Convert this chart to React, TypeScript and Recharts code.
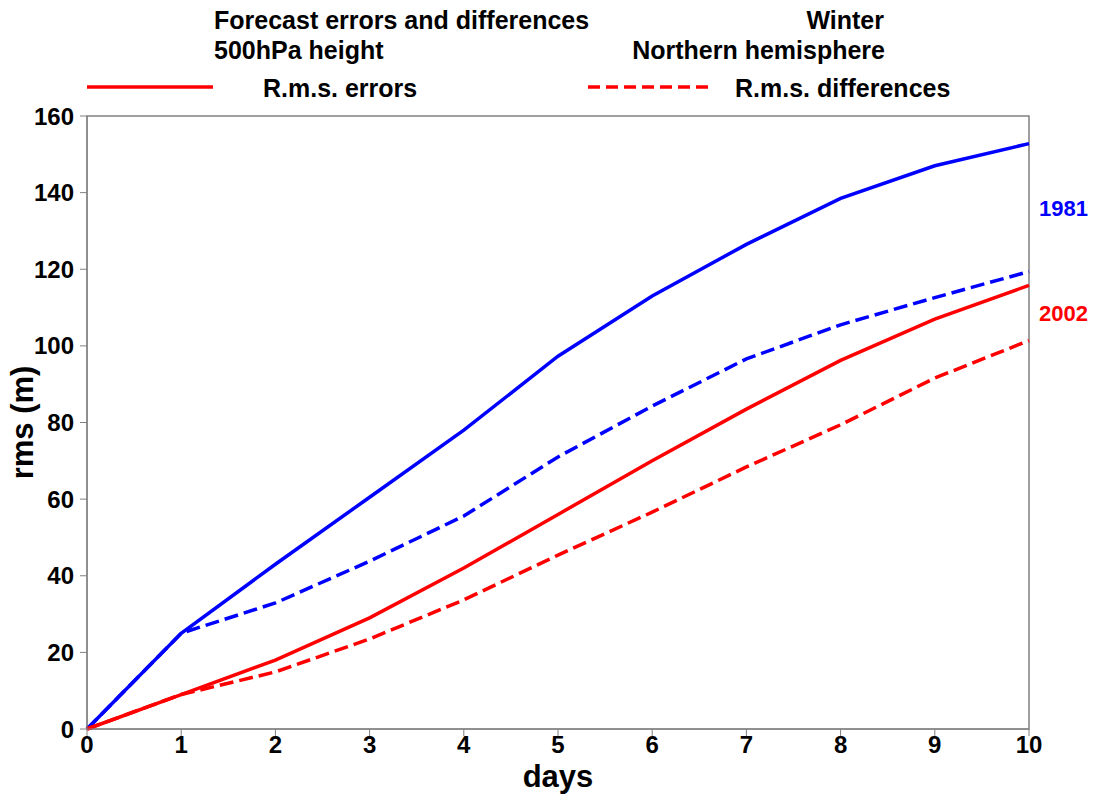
import { LineChart, Line, XAxis, YAxis, ReferenceArea } from 'recharts';

// forecast day and rms values (m)
const days = [0, 1, 2, 3, 4, 5, 6, 7, 8, 9, 10];
const errors1981 = [0, 25, 43, 60.5, 78, 97.3, 113, 126.5, 138.5, 147, 152.8];
const diffs1981 = [0, 25, 32.9, 43.8, 55.6, 71, 84.3, 96.6, 105.5, 112.6, 119.4];
const errors2002 = [0, 9, 18, 29, 42, 56, 70, 83.5, 96.2, 107, 115.8];
const diffs2002 = [0, 9, 14.9, 23.5, 33.7, 45.4, 56.6, 68.4, 79.4, 91.6, 101.4];
const yTicks = [0, 20, 40, 60, 80, 100, 120, 140, 160];

const data = days.map((d, i) => ({
  day: d,
  e1981: errors1981[i],
  d1981: diffs1981[i],
  e2002: errors2002[i],
  d2002: diffs2002[i],
}));

const FONT = '"Liberation Sans", Arial, Helvetica, sans-serif';
const tickStyle = { fill: '#000', fontSize: 24, fontWeight: 700, fontFamily: FONT };
const DASH = '14 6';
const LW = 3.5;

const textStyle: React.CSSProperties = {
  position: 'absolute',
  fontFamily: FONT,
  fontWeight: 700,
  fontSize: 25,
  whiteSpace: 'nowrap',
  lineHeight: 1,
};

function Header() {
  return (
    <>
      <div style={{ ...textStyle, left: 214, top: 8 }}>Forecast errors and differences</div>
      <div style={{ ...textStyle, left: 214, top: 38 }}>500hPa height</div>
      <div style={{ ...textStyle, right: 1095 - 884, top: 8 }}>Winter</div>
      <div style={{ ...textStyle, right: 1095 - 885, top: 38 }}>Northern hemisphere</div>
      <svg style={{ position: 'absolute', left: 0, top: 0 }} width={1095} height={110}>
        <line x1={87} x2={213} y1={87} y2={87} stroke="#ff0000" strokeWidth={LW} />
        <line x1={588} x2={714} y1={87} y2={87} stroke="#ff0000" strokeWidth={LW} strokeDasharray="12 6" />
      </svg>
      <div style={{ ...textStyle, left: 263, top: 76 }}>R.m.s. errors</div>
      <div style={{ ...textStyle, left: 735, top: 76 }}>R.m.s. differences</div>
      <div style={{ ...textStyle, left: 1039, top: 198, fontSize: 22, color: '#0000ff' }}>1981</div>
      <div style={{ ...textStyle, left: 1039, top: 303, fontSize: 22, color: '#ff0000' }}>2002</div>
    </>
  );
}

export default function App() {
  return (
    <div style={{ position: 'absolute', left: 0, top: 0, width: 1095, height: 796, background: '#fff' }}>
      <LineChart
        width={1095}
        height={796}
        data={data}
        margin={{ top: 116, right: 66, left: 17, bottom: 7 }}
      >
        <XAxis
          dataKey="day"
          type="number"
          domain={[0, 10]}
          ticks={days}
          tickSize={7}
          tickMargin={0}
          height={60}
          stroke="#808080"
          tick={tickStyle}
          label={{ value: 'days', position: 'insideBottom', offset: 2, fill: '#000', fontSize: 31, fontWeight: 700, fontFamily: FONT }}
        />
        <YAxis
          type="number"
          domain={[0, 160]}
          ticks={yTicks}
          width={70}
          tickSize={7}
          tickMargin={6}
          stroke="#808080"
          tick={tickStyle}
          label={{ value: 'rms (m)', angle: -90, position: 'insideLeft', offset: 5, fill: '#000', fontSize: 31, fontWeight: 700, fontFamily: FONT, style: { textAnchor: 'middle' } }}
        />
        <ReferenceArea x1={0} x2={10} y1={0} y2={160} fill="none" stroke="#808080" strokeWidth={1.5} ifOverflow="visible" />
        <Line dataKey="e1981" stroke="#0000ff" strokeWidth={LW} dot={false} isAnimationActive={false} />
        <Line dataKey="d1981" stroke="#0000ff" strokeWidth={LW} strokeDasharray={DASH} dot={false} isAnimationActive={false} />
        <Line dataKey="e2002" stroke="#ff0000" strokeWidth={LW} dot={false} isAnimationActive={false} />
        <Line dataKey="d2002" stroke="#ff0000" strokeWidth={LW} strokeDasharray={DASH} dot={false} isAnimationActive={false} />
      </LineChart>
      <Header />
    </div>
  );
}
